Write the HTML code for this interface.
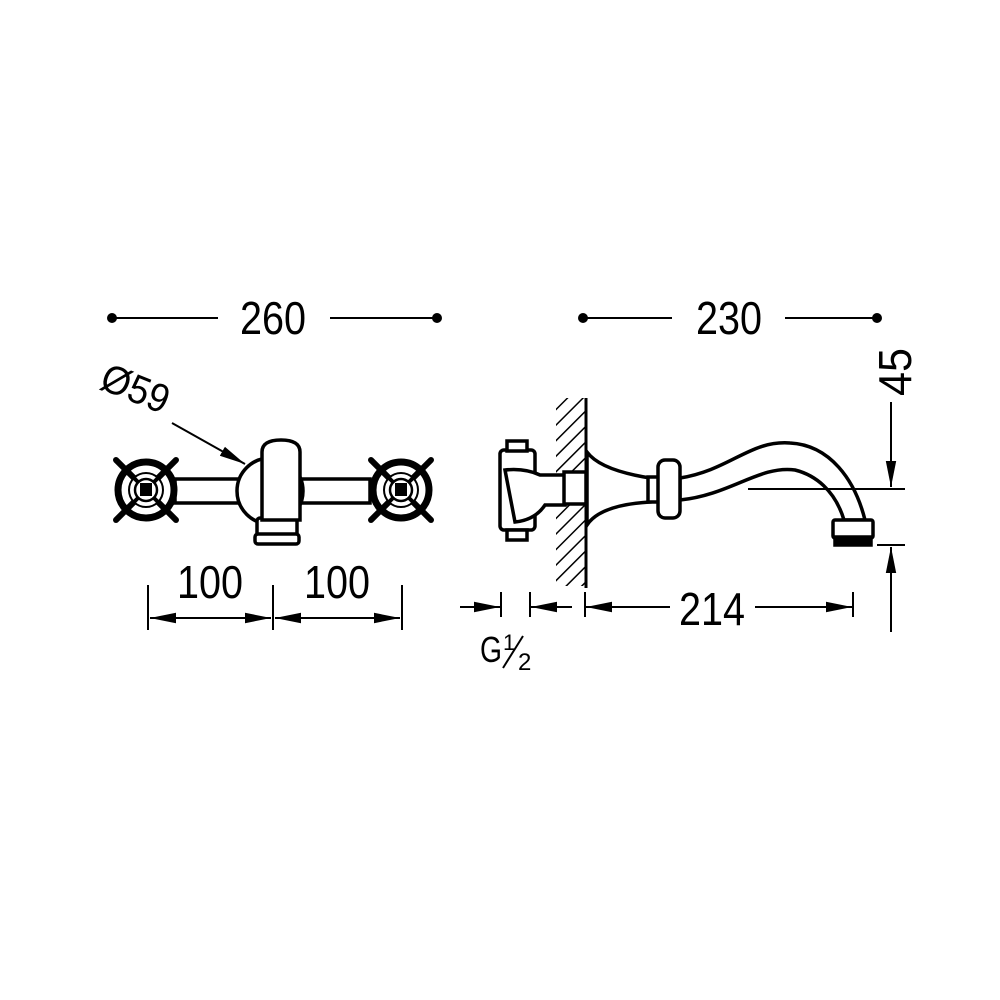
<!DOCTYPE html>
<html><head><style>html,body{margin:0;padding:0;background:#fff}svg{display:block}text{font-family:"Liberation Sans",sans-serif;fill:#000}</style></head>
<body>
<svg width="1000" height="1000" viewBox="0 0 1000 1000" xmlns="http://www.w3.org/2000/svg">
<defs>
<marker id="b" viewBox="0 0 10 10" refX="10" refY="5" markerWidth="26" markerHeight="26" markerUnits="userSpaceOnUse" orient="auto"><path d="M0,3 L10,5 L0,7 Z" fill="#000"/></marker>
<pattern id="h" width="11" height="11" patternUnits="userSpaceOnUse" patternTransform="rotate(45)"><line x1="0" y1="0" x2="0" y2="11" stroke="#000" stroke-width="3"/></pattern>
<g id="knob">
<line x1="-30" y1="-30" x2="30" y2="30" stroke="#000" stroke-width="6" stroke-linecap="round"/>
<line x1="30" y1="-30" x2="-30" y2="30" stroke="#000" stroke-width="6" stroke-linecap="round"/>
<circle r="28" fill="none" stroke="#000" stroke-width="7"/>
<circle r="17" fill="#fff" stroke="#000" stroke-width="2"/>
<line x1="-17" y1="-17" x2="17" y2="17" stroke="#000" stroke-width="4"/>
<line x1="17" y1="-17" x2="-17" y2="17" stroke="#000" stroke-width="4"/>
<circle r="11" fill="#fff" stroke="#000" stroke-width="2.5"/>
<rect x="-6" y="-7" width="12" height="13" fill="#000"/>
</g>
</defs>
<g stroke="#000" stroke-width="2" fill="none">
<line x1="114" y1="318" x2="218" y2="318"/><line x1="330" y1="318" x2="435" y2="318"/>
<line x1="585" y1="318" x2="672" y2="318"/><line x1="785" y1="318" x2="876" y2="318"/>
</g>
<g fill="#000"><circle cx="112" cy="318" r="5"/><circle cx="437" cy="318" r="5"/><circle cx="583" cy="318" r="5"/><circle cx="877" cy="318" r="5"/></g>
<text x="273" y="334" font-size="46" text-anchor="middle" textLength="66" lengthAdjust="spacingAndGlyphs">260</text>
<text x="729" y="334" font-size="46" text-anchor="middle" textLength="66" lengthAdjust="spacingAndGlyphs">230</text>
<text transform="translate(98,388) rotate(22)" font-size="40" textLength="70" lengthAdjust="spacingAndGlyphs">Ø59</text>
<line x1="172" y1="423" x2="245" y2="464" stroke="#000" stroke-width="2" marker-end="url(#b)"/>
<g stroke="#000" stroke-width="3.5" fill="#fff">
<rect x="175" y="479" width="70" height="24"/>
<rect x="295" y="479" width="75" height="24"/>
<circle cx="270" cy="491" r="33"/>
<rect x="257" y="518" width="40" height="18" rx="3"/>
<rect x="255" y="534" width="44" height="10" rx="3"/>
<path d="M262,520 L262,452 Q262,440 281,440 Q300,440 300,452 L300,520 Z"/>
</g>
<use href="#knob" x="146" y="490"/>
<use href="#knob" x="401" y="490"/>
<g stroke="#000" stroke-width="2">
<line x1="148" y1="585" x2="148" y2="630"/><line x1="273" y1="585" x2="273" y2="630"/><line x1="402" y1="585" x2="402" y2="630"/>
<line x1="150" y1="618" x2="271" y2="618" marker-end="url(#b)"/><line x1="271" y1="618" x2="150" y2="618" marker-end="url(#b)"/>
<line x1="275" y1="618" x2="400" y2="618" marker-end="url(#b)"/><line x1="400" y1="618" x2="275" y2="618" marker-end="url(#b)"/>
</g>
<text x="210" y="598" font-size="46" text-anchor="middle" textLength="66" lengthAdjust="spacingAndGlyphs">100</text>
<text x="337" y="598" font-size="46" text-anchor="middle" textLength="66" lengthAdjust="spacingAndGlyphs">100</text>
<rect x="556" y="398" width="30" height="188" fill="url(#h)"/>
<line x1="586" y1="398" x2="586" y2="588" stroke="#000" stroke-width="3"/>
<g stroke="#000" stroke-width="3.5" fill="#fff">
<rect x="500" y="450" width="35" height="80" rx="4"/>
<rect x="507" y="441" width="20" height="10"/>
<rect x="507" y="530" width="20" height="10"/>
<path d="M505,470 Q525,468 540,475 L565,475 L565,505 L545,505 Q535,520 515,522 Z"/>
<rect x="564" y="472" width="22" height="32"/>
<path d="M587,452 Q600,470 650,478 L650,502 Q600,505 587,525 Z"/>
<path d="M680,478 C730,470 750,440 790,443 C830,445 855,480 865,520 L844,520 C835,490 815,475 795,470 C760,465 730,495 680,500 Z"/>
<rect x="648" y="477" width="12" height="25"/>
<rect x="658" y="460" width="22" height="58" rx="7"/>
<rect x="833" y="520" width="40" height="18" rx="2"/>
<rect x="835" y="537" width="36" height="8" fill="#000"/>
</g>
<g stroke="#000" stroke-width="2">
<line x1="748" y1="489" x2="905" y2="489"/>
<line x1="877" y1="545" x2="905" y2="545"/>
<line x1="891" y1="402" x2="891" y2="487" marker-end="url(#b)"/>
<line x1="891" y1="632" x2="891" y2="547" marker-end="url(#b)"/>
<line x1="501" y1="592" x2="501" y2="617"/><line x1="530" y1="592" x2="530" y2="617"/>
<line x1="585" y1="592" x2="585" y2="617"/><line x1="853" y1="592" x2="853" y2="617"/>
<line x1="460" y1="607" x2="500" y2="607" marker-end="url(#b)"/>
<line x1="572" y1="607" x2="531" y2="607" marker-end="url(#b)"/>
<line x1="670" y1="607" x2="586" y2="607" marker-end="url(#b)"/>
<line x1="755" y1="607" x2="852" y2="607" marker-end="url(#b)"/>
</g>
<text x="712" y="625" font-size="46" text-anchor="middle" textLength="66" lengthAdjust="spacingAndGlyphs">214</text>
<text transform="translate(911,396) rotate(-90)" font-size="46" textLength="48" lengthAdjust="spacingAndGlyphs">45</text>
<text x="480" y="662" font-size="36" textLength="22" lengthAdjust="spacingAndGlyphs">G</text>
<text x="503" y="650" font-size="22">1</text>
<line x1="503" y1="668" x2="523" y2="636" stroke="#000" stroke-width="2"/>
<text x="518" y="670" font-size="24">2</text>
</svg>
</body></html>
